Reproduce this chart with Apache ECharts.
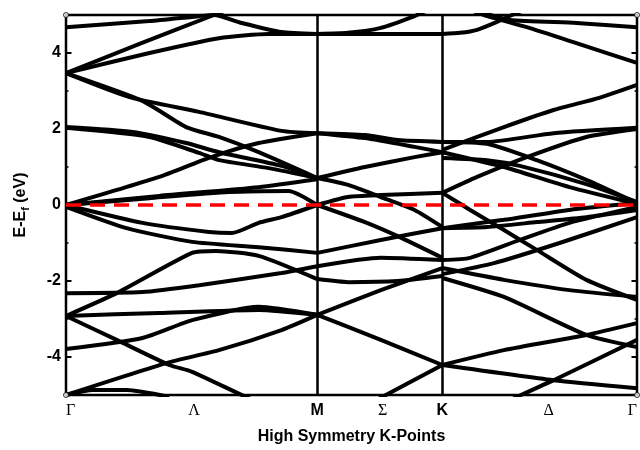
<!DOCTYPE html>
<html>
<head>
<meta charset="utf-8">
<script src="https://cdn.jsdelivr.net/npm/echarts@6.0.0/dist/echarts.min.js"></script>
<style>
  html, body { margin: 0; padding: 0; background: #fff; }
  #chart { width: 640px; height: 450px; }
</style>
</head>
<body>
<div id="chart"></div>
<script>
// High-symmetry path (k in path-length units): Γ, M, K, Γ
const symPoints = [0, 2.53, 3.79, 5.75];
const labelPos = [0, 1.29, 2.53, 3.19, 3.79, 4.86, 5.75];
const labelText = ['Γ', 'Λ', 'M', 'Σ', 'K', 'Δ', 'Γ'];
const energyTicks = [-4, -2, 0, 2, 4];

// Bands along Γ–M, each as [k, E - Ef (eV)]
const bandsGM = [
  [[0,4.68],[0.84,4.84],[1.34,4.97],[1.49,5.0],[1.77,4.79],[2.17,4.55],[2.53,4.5]],
  [[0,3.47],[0.74,4.24],[1.49,5.0],[1.94,5.45]],
  [[0,3.47],[0.84,4.0],[1.54,4.39],[2.04,4.5],[2.53,4.5]],
  [[0,3.47],[0.64,2.84],[1.34,2.45],[2.17,1.95],[2.53,1.89]],
  [[0,3.47],[0.77,2.74],[1.21,2.05],[1.54,1.79],[1.94,1.39],[2.53,0.71]],
  [[0,2.05],[0.67,1.92],[1.21,1.63],[1.54,1.39],[2.17,1.03],[2.53,0.71]],
  [[0,2.03],[0.84,1.79],[1.34,1.37],[1.54,1.18],[2.04,0.97],[2.53,0.71]],
  [[0,0],[0.94,0.74],[1.44,1.24],[1.94,1.63],[2.53,1.89]],
  [[0,0],[0.94,0.24],[1.94,0.47],[2.53,0.68]],
  [[0,0],[0.84,0.18],[1.64,0.34],[2.24,0.37],[2.53,0]],
  [[0,0],[0.77,-0.47],[1.44,-0.71],[1.67,-0.74],[1.94,-0.47],[2.17,-0.32],[2.53,0]],
  [[0,-0.05],[0.61,-0.61],[1.27,-0.97],[1.94,-1.11],[2.53,-1.26]],
  [[0,-2.32],[0.77,-2.29],[1.34,-2.11],[2.17,-1.79],[2.53,-1.61]],
  [[0,-2.92],[0.51,-2.32],[1.27,-1.26],[1.51,-1.21],[1.94,-1.34],[2.53,-1.95]],
  [[0,-2.92],[0.94,-2.84],[1.94,-2.76],[2.53,-2.89]],
  [[0,-2.92],[0.51,-3.55],[1.04,-4.21],[1.27,-4.39],[1.81,-5.05],[1.94,-5.18]],
  [[0,-3.79],[0.77,-3.5],[1.27,-3.03],[1.94,-2.68],[2.53,-2.89]],
  [[0,-5],[1.01,-4.16],[1.54,-3.82],[2.17,-3.29],[2.53,-2.89]],
  [[0,-5],[0.27,-4.87],[0.61,-4.87],[1.04,-5.05]]
];

// Bands along M–K
const bandsMK = [
  [[2.53,4.5],[3.79,4.5]],
  [[2.53,4.5],[2.84,4.53],[3.17,4.66],[3.51,4.97],[3.64,5.13]],
  [[2.53,1.89],[3.01,1.84],[3.34,1.71],[3.79,1.66]],
  [[2.53,1.89],[3.01,1.76],[3.51,1.53],[3.79,1.39]],
  [[2.53,0.71],[3.01,1.0],[3.51,1.26],[3.79,1.39]],
  [[2.53,0.71],[2.84,0.53],[3.17,0.21],[3.51,-0.13],[3.79,-0.58]],
  [[2.53,0],[2.84,0.21],[3.17,0.26],[3.79,0.32]],
  [[2.53,0],[3.01,-0.45],[3.34,-0.82],[3.79,-1.39]],
  [[2.53,-1.26],[3.17,-0.92],[3.79,-0.61]],
  [[2.53,-1.61],[3.17,-1.39],[3.79,-1.45]],
  [[2.53,-1.95],[2.84,-2.03],[3.34,-2.0],[3.79,-1.87]],
  [[2.53,-2.89],[3.17,-2.24],[3.79,-1.66]],
  [[2.53,-2.89],[2.84,-3.21],[3.17,-3.55],[3.79,-4.21]],
  [[2.94,-5.39],[3.79,-4.21]]
];

// Bands along K–Γ
const bandsKG = [
  [[3.79,4.5],[3.97,4.53],[4.14,4.61],[4.34,4.82],[4.49,5.0],[4.74,5.26]],
  [[4.04,5.18],[4.21,5.05],[4.47,4.87],[5.14,4.79],[5.75,4.68]],
  [[3.94,5.26],[4.21,5.0],[4.64,4.68],[5.14,4.26],[5.75,3.74]],
  [[3.79,1.45],[4.41,2.05],[4.91,2.5],[5.37,2.82],[5.75,3.16]],
  [[3.79,1.66],[4.24,1.66],[4.91,1.89],[5.75,2.03]],
  [[3.79,0.32],[4.14,0.74],[4.64,1.26],[5.24,1.79],[5.75,2.0]],
  [[3.79,1.66],[4.24,1.61],[4.74,1.18],[5.24,0.66],[5.75,0.05]],
  [[3.79,1.39],[4.41,1.0],[5.07,0.47],[5.75,0.03]],
  [[3.79,1.24],[4.24,1.18],[4.57,1.03],[5.24,0.55],[5.75,0.08]],
  [[3.79,0.32],[4.07,-0.13],[4.41,-0.66],[4.74,-1.18],[5.24,-1.97],[5.75,-2.5]],
  [[3.79,-0.61],[4.24,-0.58],[4.74,-0.45],[5.24,-0.32],[5.75,-0.13]],
  [[3.79,-0.61],[4.41,-0.39],[5.07,-0.13],[5.75,0.05]],
  [[3.79,-1.45],[4.07,-1.39],[4.57,-0.92],[5.07,-0.47],[5.75,-0.05]],
  [[3.79,-1.82],[4.31,-1.53],[4.97,-1.0],[5.75,-0.32]],
  [[3.79,-1.66],[4.41,-1.97],[5.07,-2.24],[5.75,-2.42]],
  [[3.79,-1.92],[4.41,-2.42],[5.24,-3.42],[5.75,-3.74]],
  [[3.79,-4.21],[4.41,-3.82],[5.24,-3.42],[5.75,-3.11]],
  [[3.79,-4.21],[4.91,-4.61],[5.75,-4.82]],
  [[4.34,-5.32],[4.54,-5.05],[4.91,-4.61],[5.75,-3.55]]
];

const fermiLevel = [[0, 0], [5.75, 0]];
const frameCorners = [[0, 5], [0, -5], [5.75, -5], [5.75, 5]];

const SANS = '"Liberation Sans", Arial, Helvetica, sans-serif';
const SERIF = '"Liberation Serif", "Times New Roman", serif';

const chart = echarts.init(document.getElementById('chart'), null, { renderer: 'canvas' });

const bandSeries = [].concat(bandsGM, bandsMK, bandsKG).map(pts => ({
  type: 'line',
  data: pts,
  xAxisIndex: 0,
  yAxisIndex: 0,
  showSymbol: false,
  symbol: 'none',
  smooth: 0.2,
  clip: true,
  silent: true,
  lineStyle: { color: '#000', width: 4 },
  z: 3
}));

function kLabel(v) {
  let idx = 0, best = Infinity;
  labelPos.forEach((p, i) => { const d = Math.abs(p - v); if (d < best) { best = d; idx = i; } });
  const t = labelText[idx];
  return (t === 'M' || t === 'K') ? '{b|' + t + '}' : '{g|' + t + '}';
}

function yAxisPair(position) {
  return [
    {
      type: 'value', position: position, min: -5, max: 5, interval: 1,
      axisLine: { show: false },
      axisTick: { show: true, inside: true, length: 2.5, lineStyle: { color: '#000', width: 1.5 } },
      axisLabel: position === 'left' ? {
        show: true, margin: 5, color: '#000', fontSize: 16, fontWeight: 'bold', fontFamily: SANS,
        formatter: v => (Math.round(v) % 2 === 0 ? String(Math.round(v)) : '')
      } : { show: false },
      splitLine: { show: false },
      name: position === 'left' ? '{m|E-E}{s|f}{m| (eV)}' : '',
      nameLocation: 'middle',
      nameRotate: 90,
      nameGap: 35,
      nameTextStyle: {
        color: '#000',
        rich: {
          m: { fontSize: 16, fontWeight: 'bold', fontFamily: SANS, color: '#000', lineHeight: 20 },
          s: { fontSize: 11, fontWeight: 'bold', fontFamily: SANS, color: '#000', lineHeight: 11, verticalAlign: 'bottom' }
        }
      }
    },
    {
      type: 'value', position: position, min: -5, max: 5, interval: 1,
      axisLine: { show: false },
      axisTick: { show: true, inside: true, length: 5.5, customValues: energyTicks, lineStyle: { color: '#000', width: 2 } },
      axisLabel: { show: false },
      splitLine: { show: false }
    }
  ];
}

const option = {
  animation: false,
  backgroundColor: '#fff',
  grid: {
    left: 66, top: 15, width: 575, height: 380,
    show: true, borderColor: '#000', borderWidth: 2.5, backgroundColor: 'transparent'
  },
  xAxis: {
    type: 'value', min: 0, max: 5.75,
    axisLine: { show: false },
    axisTick: { show: false },
    splitLine: { show: false },
    axisLabel: {
      show: true,
      customValues: labelPos,
      margin: 8,
      alignMinLabel: 'left',
      alignMaxLabel: 'right',
      formatter: kLabel,
      rich: {
        b: { fontSize: 16, fontWeight: 'bold', fontFamily: SANS, color: '#000' },
        g: { fontSize: 16, fontFamily: SERIF, color: '#000' }
      }
    },
    name: 'High Symmetry K-Points',
    nameLocation: 'middle',
    nameGap: 34,
    nameTextStyle: { color: '#000', fontSize: 16, fontWeight: 'bold', fontFamily: SANS }
  },
  yAxis: [].concat(yAxisPair('left'), yAxisPair('right')),
  series: bandSeries.concat([
    {
      type: 'line',
      data: fermiLevel,
      showSymbol: false,
      symbol: 'none',
      silent: true,
      lineStyle: { color: '#ff0000', width: 3.5, type: [15, 9] },
      z: 10,
      markLine: {
        silent: true,
        symbol: ['none', 'none'],
        label: { show: false },
        lineStyle: { color: '#000', width: 2.5, type: 'solid' },
        data: [{ xAxis: symPoints[1] }, { xAxis: symPoints[2] }],
        z: 2
      }
    },
    {
      type: 'scatter',
      data: frameCorners,
      symbol: 'circle',
      symbolSize: 5,
      clip: false,
      silent: true,
      itemStyle: { color: '#fff', borderColor: '#000', borderWidth: 1 },
      z: 20
    }
  ])
};

chart.setOption(option);
</script>
</body>
</html>
